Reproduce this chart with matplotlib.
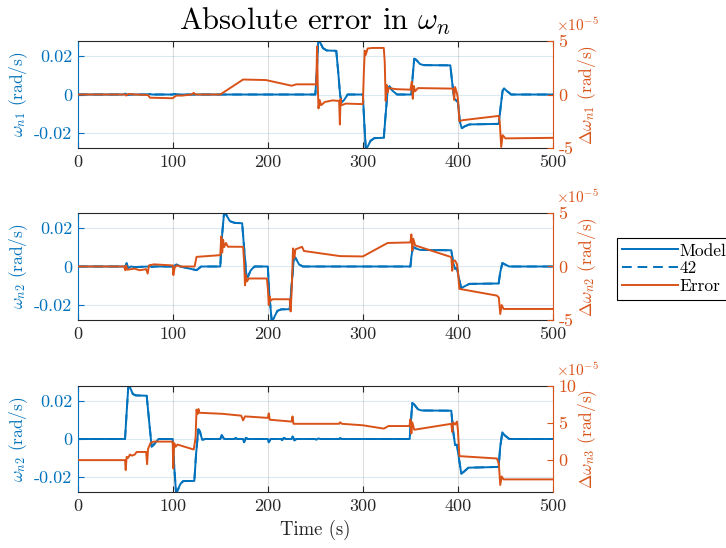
import numpy as np
import matplotlib
matplotlib.use("Agg")
import matplotlib.pyplot as plt

plt.rcParams["font.family"] = "serif"
plt.rcParams["font.serif"] = ["cmr10", "DejaVu Serif"]
plt.rcParams["mathtext.fontset"] = "cm"
plt.rcParams["axes.unicode_minus"] = False
plt.rcParams["axes.formatter.use_mathtext"] = True

BLUE = "#0072BD"
ORANGE = "#D95319"
DARK = "#262626"

# ---------------- data ----------------
# angular rate about n1: model output (rad/s)
t_m1 = [0, 48, 50, 52, 55, 74, 76, 78, 100, 102, 104, 250, 251.5, 253, 255, 258, 262, 272, 274, 276,
        277.5, 280, 284, 300, 301.5, 303, 305, 308, 312, 322, 324, 326, 328, 331, 336, 351, 352.5,
        354, 356, 360, 364, 392, 394, 396, 398, 400, 402, 404, 407, 412, 443, 445, 447, 448.5, 451,
        456, 500]
w_m1 = [0, 0, 0.0004, -0.0003, 0, 0, 0.0003, 0, 0, 0.0003, 0, 0, 0.012, 0.0272, 0.027, 0.024, 0.0228,
        0.0226, 0.012, 0.0, -0.004, -0.003, 0, 0, -0.015, -0.0277, -0.027, -0.024, -0.0226, -0.0224,
        -0.01, 0.002, 0.0042, 0.002, 0, 0, 0.01, 0.0185, 0.018, 0.0158, 0.0152, 0.0151, 0.006,
        -0.002, -0.003, -0.004, -0.014, -0.0175, -0.0165, -0.0155, -0.0152, -0.006, 0.002, 0.0032,
        0.002, 0, 0]
# absolute error about n1 (x 1e-5 rad/s)
t_e1 = [0, 50, 51, 53, 60, 74, 76, 100, 102, 104, 110, 120, 122, 124, 150, 174, 198, 225, 230, 250,
        251, 251.8, 252.5, 253.3, 254.5, 256, 260, 268, 275, 275.8, 276.5, 277.5, 282, 300, 301, 302,
        303, 305, 310, 322, 323, 324, 325, 326, 327, 335, 350, 351.5, 352.5, 353.5, 355, 358, 395,
        396, 397, 399, 400, 401.5, 405, 443, 444, 445.5, 447, 450, 500]
e_1 = [0, 0, -0.1, 0.05, 0, -0.05, -0.3, -0.35, -0.2, -0.1, -0.1, 0, 0.15, 0, 0, 1.4, 1.35, 0.82, 0.95,
       0.95, 0.9, 4.5, 1.0, -1.3, -0.5, -1.0, -0.7, -0.55, -0.6, -2.8, -0.4, -1.0, -0.85, -0.9, 2.0,
       4.1, 3.7, 4.3, 4.35, 4.35, 3.0, -0.6, 0.9, 0.2, 0.6, 0.5, 0.45, 1.2, -0.4, 0.8, 0.3, 0.6, 0.55,
       -0.5, 0.7, 0.1, -0.4, -2.5, -2.4, -2.0, -2.6, -4.9, -3.8, -4.1, -4.05]

# angular rate about n2: model output (rad/s)
t_m2 = [0, 50, 51.5, 53, 56, 60, 75, 76, 78, 80, 100, 104, 108, 125, 130, 150, 151.5, 154, 156, 160,
        165, 173, 175, 177.5, 179, 182, 186, 200, 201.5, 204, 206, 210, 214, 223, 225, 227.5, 229,
        233, 237, 350, 351, 352.7, 355, 360, 393, 395, 397, 399, 401, 403.5, 406, 412, 442.8, 444.5,
        446.7, 449, 454, 500]
w_m2 = [0, 0, 0.0017, -0.0009, 0, -0.0003, 0, 0.0005, -0.0003, 0, 0, 0.0011, 0, -0.0019, 0, 0, 0.014,
        0.0279, 0.027, 0.0235, 0.0226, 0.0224, 0.01, -0.005, -0.0054, -0.002, 0, 0, -0.014, -0.0277,
        -0.027, -0.023, -0.0222, -0.0221, -0.01, 0.005, 0.0045, 0.001, 0, 0, 0.005, 0.0102, 0.0095,
        0.0086, 0.0084, 0.002, -0.0012, -0.0008, -0.006, -0.0112, -0.0105, -0.009, -0.0088, -0.003,
        0.0018, 0.0012, 0, 0]
# absolute error about n2 (x 1e-5 rad/s)
t_e2 = [0, 49, 50, 51, 52, 60, 65, 72, 73.6, 75, 80, 100, 100.6, 102, 104, 108, 123, 125, 150, 151,
        152, 153, 154, 156, 158, 174, 175, 176, 177, 178, 180, 199, 200, 201, 202, 203, 205, 223, 224,
        225, 226.5, 228, 229, 236, 238, 276, 300, 326, 350, 351, 352, 353, 355, 393, 394, 395, 397,
        399, 400, 401.5, 441, 443, 444.5, 446, 448, 500]
e_2 = [0, 0, -0.35, 0.1, -0.3, -0.2, -0.35, -0.25, -0.66, 0.1, 0.2, 0.1, -0.8, -0.1, 0.1, 0, 0, 0.9,
       1.06, 2.8, 1.3, 2.5, 1.8, 2.2, 1.85, 1.84, 0.5, -1.75, -0.8, -1.4, -1.12, -1.12, -2.0, -3.6,
       -2.8, -3.2, -3.06, -3.06, -4.2, -2.5, 1.69, 0.8, 1.6, 1.84, 1.45, 0.97, 0.94, 2.2, 2.25, 3.0,
       1.5, 2.6, 1.97, 0.88, -0.4, 0.5, 0.56, 0.2, -0.5, -2.09, -2.72, -2.9, -4.44, -3.6, -3.97, -3.97]

# angular rate about n3: model output (rad/s)
t_m3 = [0, 49.8, 51.5, 53.3, 55, 58, 61, 72.6, 75, 77.8, 80, 85, 99.9, 101.5, 103.4, 105, 108, 111,
        122.7, 124.5, 126.9, 128.5, 131, 134, 150, 151.5, 154, 165, 166, 168, 174, 175, 177, 179, 200,
        201, 203, 214, 215, 217, 219, 225, 226, 228, 230, 250, 251, 253, 255, 275, 276, 278, 349.2,
        350.5, 352, 354, 358, 362, 393, 395, 397, 399, 401, 403.5, 406, 411, 442.8, 444.5, 446.7, 449,
        454, 500]
w_m3 = [0, 0, 0.014, 0.0279, 0.027, 0.0235, 0.0228, 0.0226, 0.01, -0.004, -0.003, 0, 0, -0.014,
        -0.0277, -0.027, -0.0235, -0.022, -0.0219, -0.008, 0.0051, 0.004, -0.0005, 0, 0, 0.002, 0, 0,
        0.0005, 0, 0, -0.0017, 0.0006, 0, 0, -0.0017, 0, 0, -0.0006, 0.0006, 0, 0, 0.0014, -0.0007, 0,
        0, -0.0004, 0.0003, 0, 0, 0.0004, 0, 0, 0.009, 0.0188, 0.018, 0.0155, 0.0149, 0.0148, 0.004,
        -0.0032, -0.003, -0.01, -0.0181, -0.0172, -0.015, -0.0146, -0.004, 0.0035, 0.002, 0, 0]
# absolute error about n3 (x 1e-5 rad/s)
t_e3 = [0, 49.8, 50.5, 51.5, 53, 55, 57, 60, 62, 72, 73, 74, 76.6, 80, 99.9, 100.5, 101.5, 103, 105,
        122, 124, 125, 126, 127, 128, 152, 172, 174, 176, 200, 201, 202, 225, 226, 227, 250, 275, 276,
        278, 300, 322, 327, 349, 350, 351, 352, 354, 393, 394, 395, 397, 399, 400, 401.5, 441, 443,
        444.5, 446, 448, 500]
e_3 = [0, 0, -1.34, 0.45, 0.3, 0.75, 0.6, 0.75, 1.1, 1.1, -0.54, 1.5, 2.32, 2.5, 2.5, -1.1, 2.3, 1.8,
       2.1, 1.43, 3.0, 6.8, 6.2, 6.9, 6.39, 6.25, 6.0, 5.36, 5.9, 5.7, 6.3, 5.45, 5.2, 5.9, 4.9, 4.9,
       4.9, 5.1, 4.9, 4.7, 4.25, 4.6, 4.6, 5.5, 3.6, 5.1, 4.1, 4.9, 3.8, 5.1, 4.8, 5.2, 4.0, 0.54,
       0.22, -0.5, -3.35, -2.2, -2.6, -2.6]

panels = [
    dict(tm=t_m1, wm=w_m1, te=t_e1, err=e_1, idx="1", lidx="1",
         rlim=(-5, 5), rticks=[-5, 0, 5]),
    dict(tm=t_m2, wm=w_m2, te=t_e2, err=e_2, idx="2", lidx="2",
         rlim=(-5, 5), rticks=[-5, 0, 5]),
    dict(tm=t_m3, wm=w_m3, te=t_e3, err=e_3, idx="3", lidx="2",
         rlim=(-4.3, 10), rticks=[0, 5, 10]),
]

x_ticks = [0, 100, 200, 300, 400, 500]
left_ticks = [-0.02, 0, 0.02]
left_ticklabels = ["-0.02", "0", "0.02"]

# ---------------- figure ----------------
fig = plt.figure(figsize=(7.26, 5.48), dpi=100)
W, H = 726.0, 548.0
ax_left, ax_right = 77.7, 553.0
rows = [(41, 148), (213, 320), (386, 492)]

TICK_FS = 13
LABEL_FS = 12.5

lines_for_legend = None
for p, (top, bot) in zip(panels, rows):
    ax = fig.add_axes([ax_left / W, 1 - bot / H, (ax_right - ax_left) / W, (bot - top) / H])
    ax2 = ax.twinx()

    l_model, = ax.plot(p["tm"], p["wm"], color=BLUE, lw=1.4, solid_joinstyle="round")
    l_42, = ax.plot(p["tm"], p["wm"], color=BLUE, lw=1.4, ls=(0, (5, 3)))
    l_err, = ax2.plot(p["te"], p["err"], color=ORANGE, lw=1.4, solid_joinstyle="round")
    lines_for_legend = (l_model, l_42, l_err)

    ax.set_xlim(0, 500)
    ax.set_ylim(-0.0277, 0.0277)
    ax2.set_ylim(*p["rlim"])

    ax.set_xticks(x_ticks)
    ax.set_xticklabels([str(v) for v in x_ticks], fontsize=TICK_FS, color=DARK)
    ax.set_yticks(left_ticks)
    ax.set_yticklabels(left_ticklabels, fontsize=TICK_FS, color=BLUE)
    ax2.set_yticks(p["rticks"])
    ax2.set_yticklabels([str(v) for v in p["rticks"]], fontsize=TICK_FS, color=ORANGE)

    ax.tick_params(axis="x", direction="in", length=4, width=0.8, color=DARK, top=True, pad=5)
    ax.tick_params(axis="y", direction="in", length=4, width=0.8, color=BLUE, pad=4)
    ax2.tick_params(axis="y", direction="in", length=4, width=0.8, color=ORANGE, pad=4)

    ax.grid(True, axis="x", color=DARK, alpha=0.15, lw=0.8)
    ax.grid(True, axis="y", color=BLUE, alpha=0.15, lw=0.8)
    ax.set_axisbelow(True)

    for s in ("top", "bottom"):
        ax.spines[s].set_color(DARK)
        ax.spines[s].set_linewidth(0.8)
    ax.spines["left"].set_color(BLUE)
    ax.spines["left"].set_linewidth(0.8)
    ax2.spines["right"].set_color(ORANGE)
    ax2.spines["right"].set_linewidth(0.8)
    for s in ("top", "bottom", "left"):
        ax2.spines[s].set_visible(False)
    ax.spines["right"].set_visible(False)

    ax.set_ylabel(r"$\omega_{n%s}$ (rad/s)" % p["lidx"], fontsize=LABEL_FS, color=BLUE)
    ax.yaxis.set_label_coords(-0.100, 0.5)
    ax2.set_ylabel(r"$\Delta\omega_{n%s}$ (rad/s)" % p["idx"], fontsize=LABEL_FS, color=ORANGE,
                   rotation=90)
    ax2.yaxis.set_label_coords(1.048, 0.5)

    ax2.text(1.006, 1.0 + 10 / (bot - top), r"$\times10^{-5}$", transform=ax2.transAxes,
             fontsize=11, color=ORANGE, ha="left", va="baseline")

    if p is panels[0]:
        ax.set_title(r"Absolute error in $\omega_n$", fontsize=22, color="black", pad=8)
    if p is panels[-1]:
        ax.set_xlabel("Time (s)", fontsize=13.5, color=DARK, labelpad=4)

leg = fig.legend(lines_for_legend, ["Model", "42", "Error"],
                 loc="upper left", bbox_to_anchor=(617 / W, 1 - 238 / H),
                 fontsize=12.5, frameon=True, fancybox=False, edgecolor="black",
                 framealpha=1, handlelength=3.2, handletextpad=0.1, borderpad=0.3,
                 labelspacing=0.15, borderaxespad=0)
leg.get_frame().set_linewidth(0.8)

fig.savefig("out.png", dpi=100)
